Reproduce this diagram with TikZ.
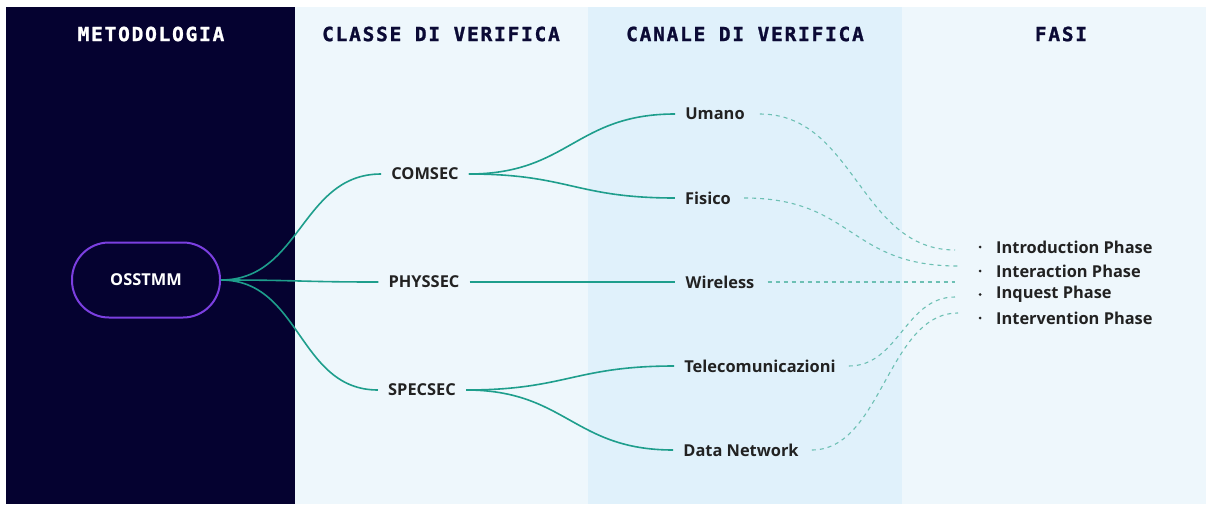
\documentclass[tikz,border=0pt]{standalone}
\usepackage{fontspec}
\setmainfont{Open Sans}
\newfontfamily\hdrfont[LetterSpace=9,BoldFeatures={FakeBold=1.2}]{DejaVu Sans Mono}
\definecolor{navy}{HTML}{050230}
\definecolor{panelA}{HTML}{EEF7FC}
\definecolor{panelB}{HTML}{E0F1FB}
\definecolor{tealc}{HTML}{1E9E8C}
\definecolor{pillc}{HTML}{7B3FE0}
\definecolor{ink}{HTML}{222222}
\definecolor{hdrink}{HTML}{0B0A35}
\begin{document}
\begin{tikzpicture}[x=1pt,y=-1pt,
  hdr/.style={font=\hdrfont\bfseries\fontsize{19.5}{19.5}\selectfont, anchor=center, inner sep=0pt},
  item/.style={font=\bfseries\fontsize{16.4}{17}\selectfont, text=ink, inner sep=10pt},
  phase/.style={font=\bfseries\fontsize{16.4}{17}\selectfont, text=ink, inner sep=0pt, anchor=west},
  pillbox/.style={draw=pillc, line width=2pt, text=white, font=\bfseries\fontsize{16.4}{17}\selectfont,
    minimum width=148pt, minimum height=75pt, rounded corners=37pt},
  link/.style={draw=tealc, line width=1.6pt},
  dlink/.style={draw=tealc!65, line width=1.1pt, dash pattern=on 4pt off 4pt},
]
\useasboundingbox (0,0) rectangle (1208,504);
\fill[white] (0,0) rectangle (1208,504);
\fill[navy] (6,7) rectangle (295,504);
\fill[panelA] (295,7) rectangle (588,504);
\fill[panelB] (588,7) rectangle (902,504);
\fill[panelA] (902,7) rectangle (1206,504);

% headers
\node[hdr, text=white] (h1) at (151,34) {METODOLOGIA};
\node[hdr, text=hdrink] (h2) at (441,34) {CLASSE DI VERIFICA};
\node[hdr, text=hdrink] (h3) at (745,34) {CANALE DI VERIFICA};
\node[hdr, text=hdrink] (h4) at (1061,34) {FASI};

% nodes
\node[pillbox] (os) at (146,280) {OSSTMM};
\node[item] (com) at (425,174) {COMSEC};
\node[item] (phy) at (424,282) {PHYSSEC};
\node[item] (spe) at (422,390) {SPECSEC};
\node[item] (uma) at (715,114) {Umano};
\node[item] (fis) at (708,198) {Fisico};
\node[item] (wir) at (720,282) {Wireless};
\node[item] (tel) at (760,366) {Telecomunicazioni};
\node[item] (dat) at (741,450) {Data Network};

% phases
\node[phase] (p1) at (996,247) {Introduction Phase};
\node[phase] (p2) at (996,271) {Interaction Phase};
\node[phase] (p3) at (996,294.5) {Inquest Phase};
\node[phase] (p4) at (996,318) {Intervention Phase};
\foreach \p in {p1,p2,p3,p4}{\fill[ink] ([xshift=-16pt]\p.west) circle (1.5pt);}

\coordinate (q1) at (955,250);
\coordinate (q2) at (958,266);
\coordinate (q3) at (955,282);
\coordinate (q4) at (955,297);
\coordinate (q5) at (958,313);

% solid links
\draw[link] (os.east) .. controls +(80,0) and +(-80,0) .. (com.west);
\draw[link] (os.east) .. controls +(80,0) and +(-80,0) .. (phy.west);
\draw[link] (os.east) .. controls +(80,0) and +(-80,0) .. (spe.west);
\draw[link] (com.east) .. controls +(100,0) and +(-100,0) .. (uma.west);
\draw[link] (com.east) .. controls +(100,0) and +(-100,0) .. (fis.west);
\draw[link] (phy.east) -- (wir.west);
\draw[link] (spe.east) .. controls +(100,0) and +(-100,0) .. (tel.west);
\draw[link] (spe.east) .. controls +(100,0) and +(-100,0) .. (dat.west);

% dashed links
\draw[dlink] ([xshift=5pt]uma.east) .. controls +(95,0) and +(-95,0) .. (q1);
\draw[dlink] ([xshift=3pt]fis.east) .. controls +(110,0) and +(-110,0) .. (q2);
\draw[dlink] ([xshift=3pt]wir.east) -- (q3);
\draw[dlink] ([xshift=3pt]tel.east) .. controls +(50,0) and +(-50,0) .. (q4);
\draw[dlink] ([xshift=3pt]dat.east) .. controls +(70,0) and +(-70,0) .. (q5);
\end{tikzpicture}
\end{document}
